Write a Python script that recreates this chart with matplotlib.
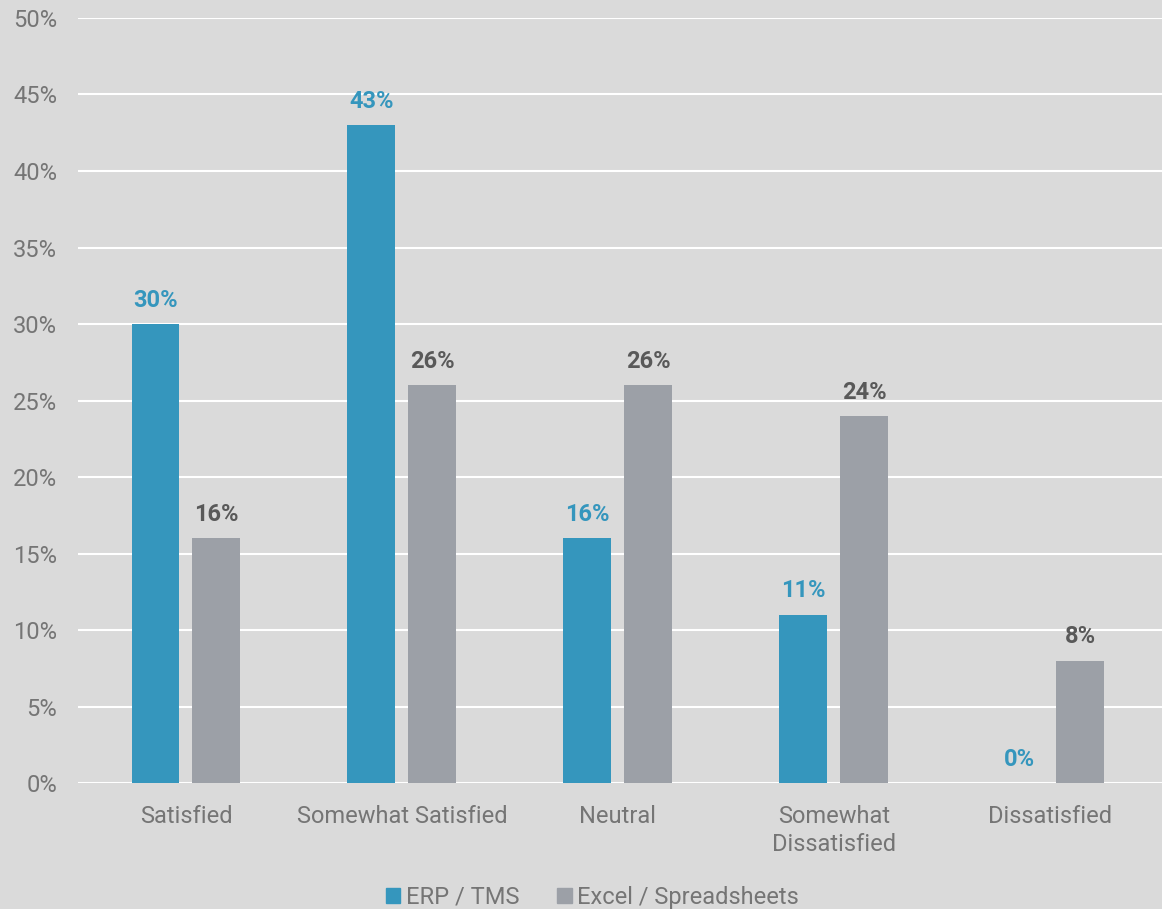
import matplotlib
matplotlib.use("Agg")
import matplotlib.pyplot as plt
import numpy as np
from matplotlib.patches import Patch

categories = ["Satisfied", "Somewhat Satisfied", "Neutral", "Somewhat\nDissatisfied", "Dissatisfied"]
erp_tms = [30, 43, 16, 11, 0]
excel = [16, 26, 26, 24, 8]
series_names = ["ERP / TMS", "Excel / Spreadsheets"]
yticks = [0, 5, 10, 15, 20, 25, 30, 35, 40, 45, 50]

plt.rcParams['font.family'] = ['Roboto', 'DejaVu Sans']
BG = "#dadada"
BLUE = "#3596bd"
GRAY = "#9ca0a7"
TXT = "#757575"

fig = plt.figure(figsize=(11.62, 9.09), dpi=100, facecolor=BG)
ax = fig.add_axes([0.0671, 0.1386, 0.9329, 0.8416], facecolor=BG)

x = np.arange(len(categories))
w = 0.222
off = 0.141
ax.bar(x - off, erp_tms, w, color=BLUE, zorder=3)
ax.bar(x + off, excel, w, color=GRAY, zorder=3)

for xi, v in zip(x, erp_tms):
    ax.text(xi - off, v + 0.8, f"{v}%", ha="center", va="bottom", color=BLUE,
            fontsize=17, fontweight="bold")
for xi, v in zip(x, excel):
    ax.text(xi + off, v + 0.8, f"{v}%", ha="center", va="bottom", color="#595959",
            fontsize=17, fontweight="bold")

ax.set_ylim(0, 50)
ax.set_xlim(-0.5, 4.52)
ax.set_yticks(yticks)
ax.set_yticklabels([f"{t}%" for t in yticks], color=TXT, fontsize=17)
ax.yaxis.grid(True, color="white", linewidth=1.5, zorder=0)
ax.set_axisbelow(True)
ax.set_xticks(x)
ax.set_xticklabels(categories, color=TXT, fontsize=17, linespacing=1.3)
ax.tick_params(axis="both", length=0)
ax.tick_params(axis="y", pad=15)
ax.tick_params(axis="x", pad=15.5)
for s in ax.spines.values():
    s.set_visible(False)

handles = [Patch(color=BLUE), Patch(color=GRAY)]
leg = fig.legend(handles, series_names, loc="center", bbox_to_anchor=(0.51, 0.013),
                 ncol=2, frameon=False, fontsize=17, handlelength=0.6, handleheight=0.6,
                 handletextpad=0.25, columnspacing=1.6, borderaxespad=0)
for t in leg.get_texts():
    t.set_color(TXT)

fig.savefig("out.png", dpi=100, facecolor=BG)
